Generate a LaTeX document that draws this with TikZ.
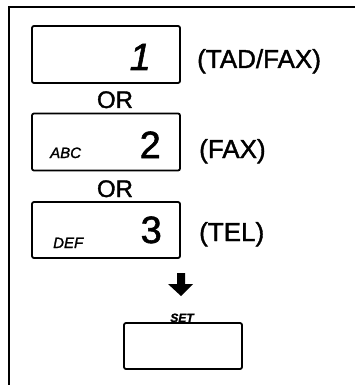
\documentclass[tikz,border=0pt]{standalone}
\usepackage{fontspec}
\setmainfont{Liberation Sans}[RawFeature={embolden=1.5}]
\usetikzlibrary{calc}

\tikzset{
  keybox/.style={draw,line width=1.8pt,rounded corners=2pt,minimum width=148pt,inner sep=0pt},
  digit/.style={font=\fontsize{38}{38}\selectfont,inner sep=0pt,anchor=base east},
  small/.style={font=\fontsize{15}{15}\selectfont\itshape,inner sep=0pt,anchor=base west},
  mode/.style={font=\fontsize{26}{26}\selectfont,inner sep=0pt,anchor=base west},
  ortext/.style={font=\fontsize{24}{24}\selectfont,inner sep=0pt,anchor=base},
}

\begin{document}
\begin{tikzpicture}[x=1pt,y=-1pt]
  \useasboundingbox (0,0) rectangle (355,385);
  % frame
  \draw[line width=2pt] (355,7)--(9,7)--(9,385);
  % the three choices
  \node[keybox,minimum height=57pt] (box1) at (106,54.5) {};
  \node[digit] (d1) at (151,70) {\itshape 1};
  \node[mode] (m1) at (197,68) {(TAD/FAX)};
  \node[ortext] (or1) at (115,108) {OR};
  \node[keybox,minimum height=57pt] (box2) at (106,142) {};
  \node[small] (s2) at (50,158) {ABC};
  \node[digit] (d2) at (161,158) {2};
  \node[mode] (m2) at (199,158) {(FAX)};
  \node[ortext] (or2) at (115,197) {OR};
  \node[keybox,minimum height=56pt] (box3) at (106,230) {};
  \node[small] (s3) at (53,248) {DEF};
  \node[digit] (d3) at (162,243) {3};
  \node[mode] (m3) at (199,241) {(TEL)};
  % set key
  \fill (177,273)--(185,273)--(185,284)--(193,284)--(181,296)--(168,284)--(177,284)--cycle;
  \node[font=\fontsize{12}{12}\selectfont\bfseries\itshape,inner sep=0pt,anchor=base] (set) at (182,322) {SET};
  \node[keybox,minimum width=118pt,minimum height=46pt] (setkey) at (183,346) {};
\end{tikzpicture}
\end{document}
